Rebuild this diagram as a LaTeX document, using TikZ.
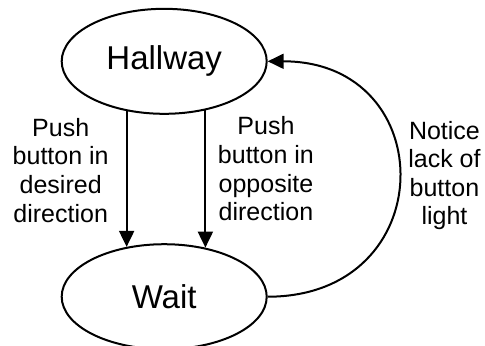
\documentclass[tikz,border=0pt]{standalone}
\usepackage{fontspec}
\setmainfont{Liberation Sans}
\usetikzlibrary{shapes.geometric, positioning, arrows.meta}

\begin{document}
\begin{tikzpicture}[node distance=117.7pt]
\tikzstyle{every node}=[inner sep=0pt, font=\fontsize{12.5}{14.3}\selectfont]
\tikzstyle{phase}=[draw, ellipse, line width=1pt, minimum width=102.5pt, minimum height=52.5pt, font=\fontsize{16.5}{19}\selectfont]
\tikzstyle{every edge}=[draw, -{Triangle[width=7.5pt,length=8pt]}, line width=1pt]
\tikzstyle{lbl}=[align=center]

\useasboundingbox (-82.1pt,30.65pt) rectangle (160.4pt,-141.85pt);

\node[phase] (H) {Hallway};
\node[phase, below of=H] (W) {Wait};

\draw (H.233) edge node[lbl, pos=0.435, left=8.5pt] {Push\\button in\\desired\\direction} (W.127);
\draw (H.310) edge node[lbl, pos=0.426, right=5.8pt] {Push\\button in\\opposite\\direction} (W.50);
\draw (W.east) edge[out=0, in=0, looseness=1.9] node[lbl, right=4.4pt, yshift=1.7pt] {Notice\\lack of\\button\\light} (H.east);
\end{tikzpicture}
\end{document}
